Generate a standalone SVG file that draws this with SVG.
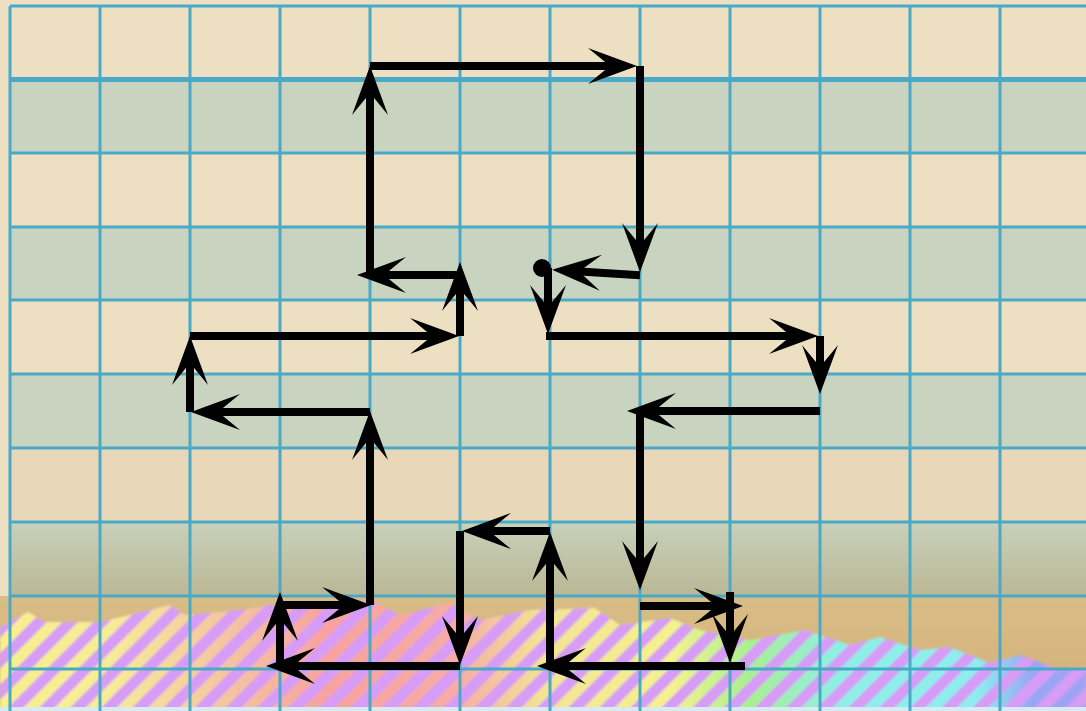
<svg xmlns="http://www.w3.org/2000/svg" width="1086" height="711" viewBox="0 0 1086 711">
  <style>
    .beige { fill: #eddfc2; }
    .green { fill: #c9d4c0; }
    .grid line { stroke: #4aa9c6; stroke-width: 3; }
    .grid line.thick { stroke-width: 5; }
    .arrow { stroke: #000; stroke-width: 8; stroke-linecap: square; fill: none; marker-end: url(#ah); }
  </style>
  <defs>
    <marker id="ah" markerUnits="userSpaceOnUse" viewBox="-30 -20 52 40" refX="0" refY="0" markerWidth="52" markerHeight="40" orient="auto" overflow="visible">
      <path d="M20,0 L-29,-18 L-7,0 L-29,18 Z" fill="#000"/>
    </marker>
    <linearGradient id="row7" x1="0" y1="0" x2="0" y2="1">
      <stop offset="0" stop-color="#c8d1bb"/>
      <stop offset="1" stop-color="#bab795"/>
    </linearGradient>
    <linearGradient id="gold" x1="0" y1="0" x2="0" y2="1">
      <stop offset="0" stop-color="#d8bd86"/>
      <stop offset="1" stop-color="#d6ae78"/>
    </linearGradient>
    <linearGradient id="rainbow" gradientUnits="userSpaceOnUse" x1="0" y1="0" x2="1086" y2="0">
      <stop offset="0" stop-color="#f8f08c"/>
      <stop offset="0.1" stop-color="#f6ec98"/>
      <stop offset="0.2" stop-color="#f5c8a0"/>
      <stop offset="0.3" stop-color="#f8a2a0"/>
      <stop offset="0.42" stop-color="#f6aca6"/>
      <stop offset="0.5" stop-color="#f3e494"/>
      <stop offset="0.62" stop-color="#f4f28e"/>
      <stop offset="0.69" stop-color="#a9f092"/>
      <stop offset="0.77" stop-color="#8fefe6"/>
      <stop offset="0.9" stop-color="#8eedf0"/>
      <stop offset="0.95" stop-color="#9aa6f4"/>
      <stop offset="1" stop-color="#a2a2f4"/>
    </linearGradient>
    <pattern id="stripes" patternUnits="userSpaceOnUse" width="22" height="22" patternTransform="rotate(45)">
      <rect x="0" y="0" width="11" height="22" fill="#d69cf6"/>
    </pattern>
    <filter id="soft" x="-0.05" y="-0.05" width="1.1" height="1.1">
      <feGaussianBlur stdDeviation="1.2"/>
    </filter>
  </defs>

  <g id="background">
    <rect x="0" y="0" width="1086" height="711" class="beige"/>
    <rect x="10" y="79.5" width="1076" height="73.5" class="green"/>
    <rect x="10" y="227" width="1076" height="73" class="green"/>
    <rect x="10" y="374" width="1076" height="74" class="green"/>
    <rect x="10" y="448" width="1076" height="74" fill="#e8d8b9"/>
    <rect x="10" y="522" width="1076" height="74" fill="url(#row7)"/>
    <rect x="0" y="596" width="1086" height="115" fill="url(#gold)"/>
    <g filter="url(#soft)">
      <path d="M0,627 L28,612 L45,622 L100,622 L170,605 L185,615 L240,610 L270,605 L300,608 L370,600 L400,615 L450,603 L480,620 L530,610 L595,608 L620,625 L670,618 L700,630 L750,640 L805,630 L850,645 L880,637 L920,650 L950,647 L990,663 L1020,655 L1060,670 L1086,668 L1086,715 L0,715 Z" fill="url(#rainbow)"/>
      <path d="M0,627 L28,612 L45,622 L100,622 L170,605 L185,615 L240,610 L270,605 L300,608 L370,600 L400,615 L450,603 L480,620 L530,610 L595,608 L620,625 L670,618 L700,630 L750,640 L805,630 L850,645 L880,637 L920,650 L950,647 L990,663 L1020,655 L1060,670 L1086,668 L1086,715 L0,715 Z" fill="url(#stripes)"/>
    </g>
    <rect x="0" y="707" width="1086" height="4" fill="#d6ecf2"/>
  </g>

  <g class="grid" id="grid">
    <line x1="10" y1="6" x2="1086" y2="6"/>
    <line class="thick" x1="10" y1="79.5" x2="1086" y2="79.5"/>
    <line x1="10" y1="153" x2="1086" y2="153"/>
    <line x1="10" y1="227" x2="1086" y2="227"/>
    <line x1="10" y1="300" x2="1086" y2="300"/>
    <line x1="10" y1="374" x2="1086" y2="374"/>
    <line x1="10" y1="448" x2="1086" y2="448"/>
    <line x1="10" y1="522" x2="1086" y2="522"/>
    <line x1="10" y1="596" x2="1086" y2="596"/>
    <line x1="10" y1="669" x2="1086" y2="669"/>
    <line x1="10" y1="6" x2="10" y2="711"/>
    <line x1="100" y1="6" x2="100" y2="711"/>
    <line x1="190" y1="6" x2="190" y2="711"/>
    <line x1="280" y1="6" x2="280" y2="711"/>
    <line x1="370" y1="6" x2="370" y2="711"/>
    <line x1="460" y1="6" x2="460" y2="711"/>
    <line x1="550" y1="6" x2="550" y2="711"/>
    <line x1="640" y1="6" x2="640" y2="711"/>
    <line x1="730" y1="6" x2="730" y2="711"/>
    <line x1="820" y1="6" x2="820" y2="711"/>
    <line x1="910" y1="6" x2="910" y2="711"/>
    <line x1="1000" y1="6" x2="1000" y2="711"/>
  </g>

  <g id="start">
    <circle cx="542" cy="268" r="9" fill="#000"/>
  </g>

  <g id="connectors">
    <line class="arrow" x1="548" y1="272" x2="548" y2="314"/>
    <line class="arrow" x1="550" y1="336" x2="798" y2="336"/>
    <line class="arrow" x1="820" y1="340" x2="820" y2="374"/>
    <line class="arrow" x1="816" y1="411" x2="647" y2="411"/>
    <line class="arrow" x1="640" y1="415" x2="640" y2="570"/>
    <line class="arrow" x1="644" y1="606" x2="723" y2="606"/>
    <line class="arrow" x1="730" y1="596" x2="730" y2="643"/>
    <line class="arrow" x1="741" y1="666" x2="557" y2="666"/>
    <line class="arrow" x1="550" y1="662" x2="550" y2="552"/>
    <line class="arrow" x1="546" y1="531" x2="482" y2="531"/>
    <line class="arrow" x1="460" y1="535" x2="460" y2="645"/>
    <line class="arrow" x1="456" y1="666" x2="286" y2="666"/>
    <line class="arrow" x1="280" y1="662" x2="280" y2="612"/>
    <line class="arrow" x1="284" y1="605" x2="351" y2="605"/>
    <line class="arrow" x1="370" y1="601" x2="370" y2="431"/>
    <line class="arrow" x1="366" y1="412" x2="211" y2="412"/>
    <line class="arrow" x1="190" y1="408" x2="190" y2="356"/>
    <line class="arrow" x1="194" y1="336" x2="439" y2="336"/>
    <line class="arrow" x1="460" y1="332" x2="460" y2="282"/>
    <line class="arrow" x1="456" y1="275" x2="377" y2="275"/>
    <line class="arrow" x1="370" y1="271" x2="370" y2="86"/>
    <line class="arrow" x1="374" y1="66" x2="617" y2="66"/>
    <line class="arrow" x1="640" y1="70" x2="640" y2="252"/>
    <line class="arrow" x1="636" y1="275" x2="572" y2="271"/>
  </g>
</svg>
